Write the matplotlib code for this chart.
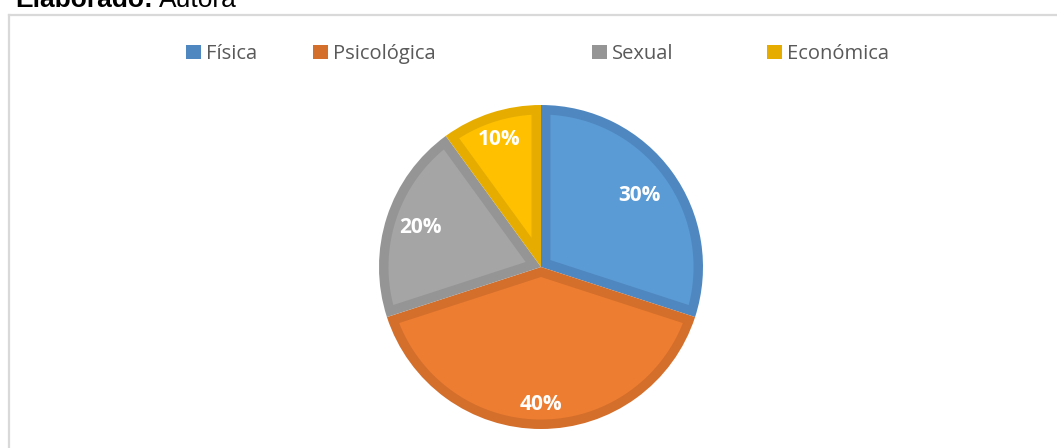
import matplotlib
matplotlib.use("Agg")
import matplotlib.pyplot as plt
from matplotlib.patches import Patch, Polygon
import numpy as np

# ---- data ----
categories = ["Física", "Psicológica", "Sexual", "Económica"]
values = [30, 40, 20, 10]
labels = ["30%", "40%", "20%", "10%"]
fill_colors = ["#5b9bd5", "#ed7d31", "#a5a5a5", "#ffc000"]
edge_colors = ["#4f88c0", "#d46f2b", "#959595", "#e6ad00"]

# ---- layout ----
W, H = 1057, 448
DPI = 100
fig = plt.figure(figsize=(W / DPI, H / DPI), dpi=DPI)
fig.patch.set_facecolor("white")

ax = fig.add_axes([0, 0, 1, 1])
cx, cy, R = 541, H - 267, 162
label_dist = [0.75, 0.85, 0.78, 0.83]
b = 9.5  # border thickness in px

# outer wedges drawn in the darker border colour
wedges, _ = ax.pie(values, center=(cx, cy), radius=R, startangle=90,
                   counterclock=False, colors=edge_colors,
                   wedgeprops=dict(linewidth=0, antialiased=True))

# inner (inset) fill for each wedge
for w, fc, lab, d in zip(wedges, fill_colors, labels, label_dist):
    t1, t2 = np.deg2rad(w.theta1), np.deg2rad(w.theta2)
    span = t2 - t1
    mid = (t1 + t2) / 2
    r_in = R - b
    apex_d = b / np.sin(span / 2)
    delta = np.arcsin(b / r_in)
    # points on the inner lines meeting the inner arc
    ang = np.linspace(t1, t2, 200)
    # arc between the two offset lines
    arc_ang = np.linspace(t1 + delta, t2 - delta, 200)
    pts = [(cx + apex_d * np.cos(mid), cy + apex_d * np.sin(mid))]
    pts += [(cx + r_in * np.cos(a), cy + r_in * np.sin(a)) for a in arc_ang]
    ax.add_patch(Polygon(pts, closed=True, facecolor=fc, edgecolor="none"))
    ax.text(cx + d * R * np.cos(mid), cy + d * R * np.sin(mid), lab,
            ha="center", va="center", color="white", fontsize=15,
            fontweight="bold", family="Open Sans", zorder=5)

ax.set_xlim(0, W)
ax.set_ylim(0, H)
ax.set_aspect("auto")
ax.axis("off")

# chart frame (top and left visible)
ax.plot([8.5, W], [H - 14.5, H - 14.5], color="#d9d9d9", lw=1.6, clip_on=False)
ax.plot([8.5, 8.5], [H - 14.5, 0], color="#d9d9d9", lw=1.6, clip_on=False)

# legend (Excel-style fixed positions)
legend_x = [186, 313, 592, 767]
for cat, ec, lx in zip(categories, edge_colors, legend_x):
    fig.legend(handles=[Patch(facecolor=ec, edgecolor="none")], labels=[cat],
               loc="center left", bbox_to_anchor=(lx / W, 1 - 54 / H),
               frameon=False, borderpad=0, borderaxespad=0,
               handlelength=0.75, handleheight=0.75, handletextpad=0.25,
               prop=dict(family="Open Sans", size=14.5), labelcolor="#595959")

# cut-off header text
t1 = fig.text(15 / W, 1 - 7 / H, "Elaborado:", fontsize=19, fontweight="bold",
              family="Liberation Sans", color="black", va="baseline")
fig.canvas.draw()
bb = t1.get_window_extent()
fig.text((bb.x1 + 6) / W, 1 - 7 / H, "Autora", fontsize=19,
         family="Liberation Sans", color="black", va="baseline")

fig.savefig("out.png", dpi=DPI)
